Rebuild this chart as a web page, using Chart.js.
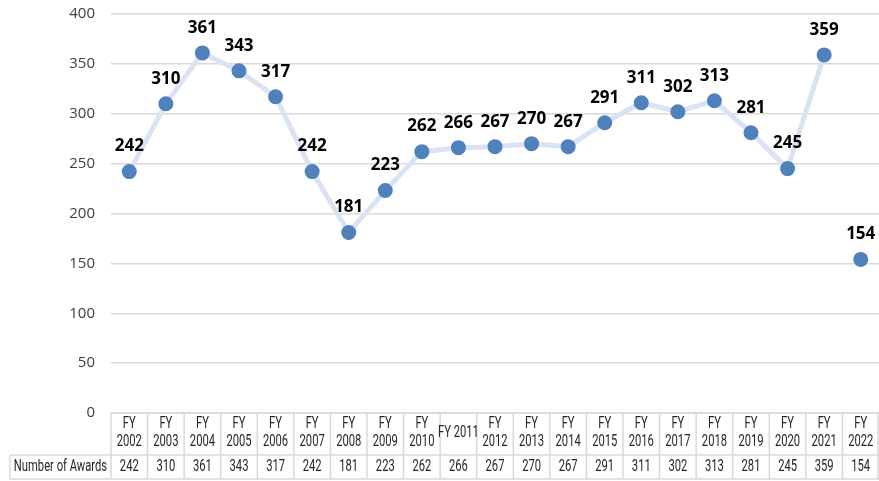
<!DOCTYPE html>
<html>
<head>
<meta charset="utf-8">
<script src="https://cdn.jsdelivr.net/npm/chart.js@4.4.1/dist/chart.umd.min.js"></script>
<style>
  html, body { margin: 0; padding: 0; background: #fff; }
  canvas { display: block; }
</style>
</head>
<body>
<canvas id="awardsChart" width="879" height="481"></canvas>
<script>
// data
const years = ['FY 2002', 'FY 2003', 'FY 2004', 'FY 2005', 'FY 2006', 'FY 2007', 'FY 2008',
  'FY 2009', 'FY 2010', 'FY 2011', 'FY 2012', 'FY 2013', 'FY 2014', 'FY 2015', 'FY 2016',
  'FY 2017', 'FY 2018', 'FY 2019', 'FY 2020', 'FY 2021', 'FY 2022'];
const awards = [242, 310, 361, 343, 317, 242, 181, 223, 262, 266, 267, 270, 267, 291, 311,
  302, 313, 281, 245, 359, 154];
const yTicks = [0, 50, 100, 150, 200, 250, 300, 350, 400];
const rowLabel = 'Number of Awards';
// the line is not drawn into the last year
const lastConnected = 'FY 2021';
// single-line header cells
const oneLineHeaders = ['FY 2011'];

const lineColor = '#dae3f3';
const pointColor = '#4f81bd';
const gridColor = '#d9d9d9';

// narrow table lettering (squeezed sans)
function narrowText(ctx, txt, cx, cy) {
  ctx.save();
  ctx.translate(cx, cy);
  ctx.scale(0.7, 1);
  ctx.fillText(txt, 0, 0);
  ctx.restore();
}

/* value labels above the points */
const valueLabels = {
  id: 'valueLabels',
  afterDatasetsDraw(chart) {
    const ctx = chart.ctx;
    const meta = chart.getDatasetMeta(0);
    ctx.save();
    ctx.font = 'bold 17px "Open Sans", sans-serif';
    ctx.fillStyle = '#000';
    ctx.textAlign = 'center';
    ctx.textBaseline = 'middle';
    meta.data.forEach((pt, i) => {
      ctx.fillText(String(awards[i]), pt.x, pt.y - 25);
    });
    ctx.restore();
  }
};

/* data table under the axis */
const dataTable = {
  id: 'dataTable',
  afterDraw(chart) {
    const ctx = chart.ctx;
    const x = chart.scales.x;
    const area = chart.chartArea;
    const top = area.bottom;
    const mid = top + 42;
    const bottom = mid + 24;
    const half = (x.getPixelForValue(1) - x.getPixelForValue(0)) / 2;
    const left = x.getPixelForValue(0) - half;
    const right = x.getPixelForValue(years.length - 1) + half;

    ctx.save();
    ctx.strokeStyle = gridColor;
    ctx.lineWidth = 1.5;
    ctx.beginPath();
    ctx.moveTo(left, top); ctx.lineTo(right, top);
    ctx.moveTo(10, mid); ctx.lineTo(right, mid);
    ctx.moveTo(10, bottom); ctx.lineTo(right, bottom);
    ctx.moveTo(10, mid); ctx.lineTo(10, bottom);
    for (let i = 0; i <= years.length; i++) {
      const px = Math.min(left + i * half * 2, right - 1);
      ctx.moveTo(px, top); ctx.lineTo(px, bottom);
    }
    ctx.stroke();

    ctx.fillStyle = '#262626';
    ctx.textAlign = 'center';
    ctx.textBaseline = 'middle';
    ctx.font = '16px "Roboto", sans-serif';
    years.forEach((yr, i) => {
      const cx = x.getPixelForValue(i);
      if (oneLineHeaders.includes(yr)) {
        narrowText(ctx, yr, cx, top + 20);
      } else {
        const parts = yr.split(' ');
        narrowText(ctx, parts[0], cx, top + 11);
        narrowText(ctx, parts[1], cx, top + 29);
      }
      narrowText(ctx, String(awards[i]), cx, mid + 12);
    });
    narrowText(ctx, rowLabel, (10 + left) / 2, mid + 12);
    ctx.restore();
  }
};

const breakIndex = years.indexOf(lastConnected);

new Chart(document.getElementById('awardsChart'), {
  type: 'line',
  data: {
    labels: years,
    datasets: [{
      label: rowLabel,
      data: awards,
      borderColor: lineColor,
      borderWidth: 5,
      backgroundColor: pointColor,
      pointBackgroundColor: pointColor,
      pointBorderColor: pointColor,
      pointRadius: 5,
      pointHoverRadius: 5,
      tension: 0,
      segment: {
        borderColor: c => c.p0DataIndex >= breakIndex ? 'transparent' : lineColor
      }
    }]
  },
  options: {
    responsive: false,
    animation: false,
    layout: { autoPadding: false, padding: { top: 14, right: 0, bottom: 68, left: 0 } },
    plugins: {
      legend: { display: false },
      tooltip: { enabled: false }
    },
    scales: {
      x: {
        display: false,
        offset: true,
        ticks: { display: false }
      },
      y: {
        min: 0,
        max: 400,
        afterFit(scale) { scale.width = 111; },
        afterBuildTicks(scale) { scale.ticks = yTicks.map(v => ({ value: v })); },
        border: { display: false },
        grid: { color: gridColor, lineWidth: 1.5, drawTicks: true, tickLength: 16, tickColor: 'transparent' },
        ticks: {
          padding: 0,
          color: '#404040',
          font: { family: '"Open Sans", sans-serif', size: 15 }
        }
      }
    }
  },
  plugins: [valueLabels, dataTable]
});
</script>
</body>
</html>
